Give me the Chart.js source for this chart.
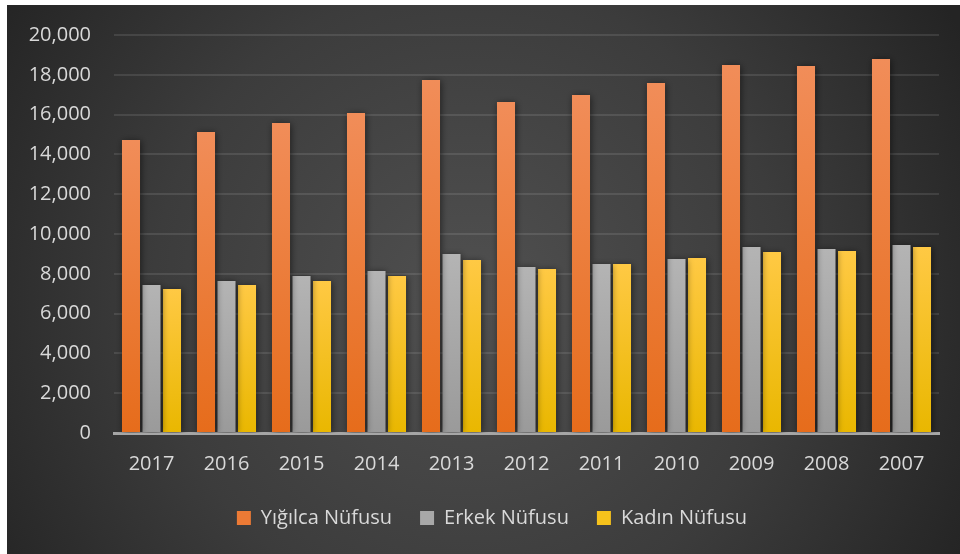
<!DOCTYPE html>
<html>
<head>
<meta charset="utf-8">
<script src="https://cdn.jsdelivr.net/npm/chart.js@4"></script>
<style>
    html, body { margin: 0; padding: 0; background: #ffffff; }
    #wrap { width: 960px; height: 554px; position: relative; }
</style>
</head>
<body>
<div id="wrap"><canvas id="nufus-chart"></canvas></div>
<script>
// Years (categories) as shown left to right
const years = ['2017', '2016', '2015', '2014', '2013', '2012', '2011', '2010', '2009', '2008', '2007'];

// Series values
const yigilcaNufusu = [14720, 15130, 15580, 16080, 17740, 16630, 16990, 17590, 18490, 18440, 18790];
const erkekNufusu   = [7440, 7640, 7890, 8140, 9000, 8340, 8490, 8740, 9350, 9250, 9450];
const kadinNufusu   = [7240, 7440, 7640, 7890, 8690, 8240, 8490, 8790, 9100, 9150, 9350];

// Y axis ticks
const yMax = 20000;
const yStep = 2000;

const FONT = "'Open Sans', sans-serif";
const TEXT_COLOR = '#d9d9d9';

// Per-bar vertical gradient (lighter at the top, stronger at the base)
function barGradient(topColor, bottomColor) {
    return (context) => {
        const chart = context.chart;
        const yScale = chart.scales.y;
        if (!chart.chartArea || !yScale || context.raw == null) return bottomColor;
        const top = yScale.getPixelForValue(context.raw);
        const bottom = yScale.getPixelForValue(0);
        if (!isFinite(top) || !isFinite(bottom) || top === bottom) return bottomColor;
        const g = chart.ctx.createLinearGradient(0, top, 0, bottom);
        g.addColorStop(0, topColor);
        g.addColorStop(1, bottomColor);
        return g;
    };
}

// Dark radial backdrop with the thin white margin at top/left
const backdrop = {
    id: 'backdrop',
    beforeDraw(chart) {
        const { ctx, width, height } = chart;
        ctx.save();
        ctx.fillStyle = '#ffffff';
        ctx.fillRect(0, 0, width, height);
        const g = ctx.createRadialGradient(470, 300, 20, 470, 300, 560);
        g.addColorStop(0, '#4f4f4f');
        g.addColorStop(0.55, '#3c3c3c');
        g.addColorStop(1, '#242424');
        ctx.fillStyle = g;
        ctx.fillRect(7, 5, width - 7, height - 5);
        ctx.restore();
    },
};

// Legend is centred a bit right of the plot (Excel centres it on the whole frame)
const legendShift = {
    id: 'legendShift',
    afterLayout(chart) {
        if (chart.legend) chart.legend.left = 45;
    },
};

// Soft drop shadow under the bars
const barShadow = {
    id: 'barShadow',
    beforeDatasetsDraw(chart) {
        const ctx = chart.ctx;
        ctx.save();
        ctx.shadowColor = 'rgba(0, 0, 0, 0.55)';
        ctx.shadowBlur = 7;
        ctx.shadowOffsetX = 1;
        ctx.shadowOffsetY = 1;
    },
    afterDatasetsDraw(chart) {
        chart.ctx.restore();
    },
};

const chart = new Chart(document.getElementById('nufus-chart'), {
    type: 'bar',
    data: {
        labels: years,
        datasets: [
            {
                label: 'Yığılca Nüfusu',
                data: yigilcaNufusu,
                backgroundColor: barGradient('#f18d59', '#e66c1b'),
            },
            {
                label: 'Erkek Nüfusu',
                data: erkekNufusu,
                backgroundColor: barGradient('#b4b4b4', '#9a9a9a'),
            },
            {
                label: 'Kadın Nüfusu',
                data: kadinNufusu,
                backgroundColor: barGradient('#ffc944', '#e9b700'),
            },
        ],
    },
    options: {
        responsive: true,
        maintainAspectRatio: false,
        animation: false,
        categoryPercentage: 0.82,
        barPercentage: 0.88,
        layout: {
            padding: { top: 22, left: 7, right: 21, bottom: 16 },
        },
        plugins: {
            tooltip: { enabled: false },
            legend: {
                display: true,
                position: 'bottom',
                labels: {
                    color: TEXT_COLOR,
                    font: { family: FONT, size: 20 },
                    boxWidth: 14,
                    boxHeight: 14,
                    padding: 28,
                    // legend swatches use the plain (base) colours
                    generateLabels(chart) {
                        const swatches = ['#ec7a35', '#a8a8a8', '#f6c21c'];
                        return chart.data.datasets.map((ds, i) => ({
                            text: ds.label,
                            fillStyle: swatches[i],
                            strokeStyle: swatches[i],
                            lineWidth: 0,
                            fontColor: TEXT_COLOR,
                            datasetIndex: i,
                            hidden: false,
                        }));
                    },
                },
            },
        },
        scales: {
            x: {
                grid: { display: false, drawTicks: false },
                border: { display: true, color: '#a6a6a6', width: 3 },
                ticks: {
                    color: TEXT_COLOR,
                    font: { family: FONT, size: 20 },
                    padding: 19,
                    maxRotation: 0,
                },
                afterFit(scale) { scale.height = 47; },
            },
            y: {
                min: 0,
                max: yMax,
                grid: {
                    color: 'rgba(255, 255, 255, 0.1)',
                    lineWidth: 2,
                    drawTicks: false,
                },
                border: { display: false },
                ticks: {
                    stepSize: yStep,
                    color: TEXT_COLOR,
                    font: { family: FONT, size: 20 },
                    padding: 23,
                    callback: v => v.toLocaleString('en-US'),
                },
                afterFit(scale) { scale.width = 107; },
            },
        },
    },
    plugins: [backdrop, legendShift, barShadow],
});
</script>
</body>
</html>
